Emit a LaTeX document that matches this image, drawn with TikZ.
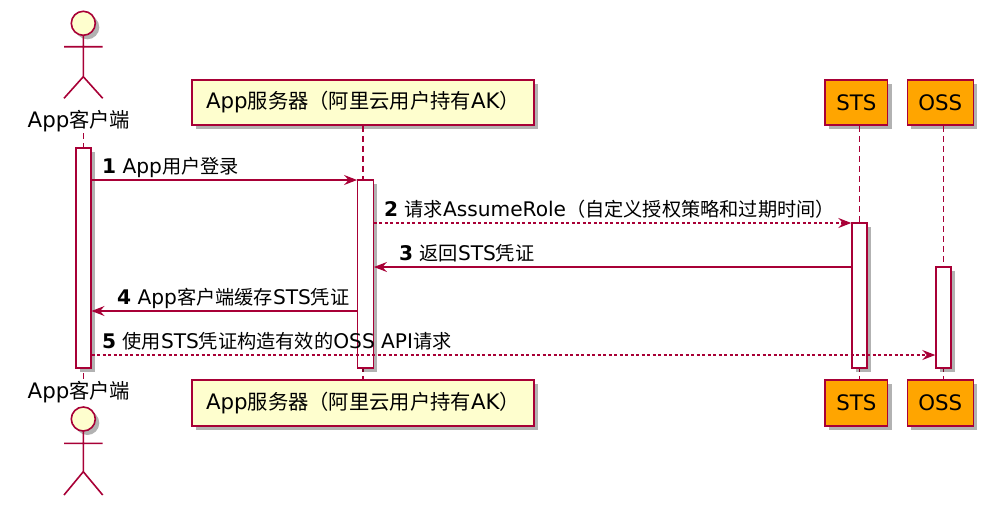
\documentclass[tikz,border=0pt]{standalone}
\usepackage{fontspec}
\setmainfont[Scale=1.05]{DejaVu Sans}
\newfontfamily\cjk{Noto Sans CJK SC}
\newcommand{\zh}[1]{{\cjk #1}}
\usetikzlibrary{arrows.meta,shadows}
\definecolor{pred}{HTML}{A80036}
\definecolor{pfill}{HTML}{FEFECE}
\definecolor{porange}{HTML}{FFA500}
\begin{document}
\begin{tikzpicture}[x=1pt,y=-1pt,
  shade/.style={drop shadow={shadow xshift=4pt,shadow yshift=-4pt,opacity=0.3,fill=black}},
  part/.style={draw=pred,line width=1.5pt,fill=pfill,inner sep=0pt,font=\fontsize{20.3}{24}\selectfont,shade},
  orangebox/.style={part,fill=porange},
  actlabel/.style={inner sep=0pt,font=\fontsize{20.3}{24}\selectfont},
  actfig/.style={draw=pred,line width=1.6pt},
  life/.style={draw=pred,line width=1.1pt,dash pattern=on 6pt off 4pt},
  actbox/.style={draw=pred,line width=1.4pt,fill=white,inner sep=0pt,shade},
  msg/.style={draw=pred,line width=1.2pt,-{Stealth[length=13pt,width=10pt,inset=4.5pt]}},
  dmsg/.style={msg,dash pattern=on 3pt off 2.5pt},
  mlabel/.style={anchor=base west,inner sep=0pt,font=\fontsize{19.2}{22}\selectfont}
]
\useasboundingbox (0,0) rectangle (1001,509);

% participants
\node[part,minimum width=342pt,minimum height=45pt] (p2top) at (363,102.5) {App\zh{服务器（阿里云用户持有}AK\zh{）}};
\node[part,minimum width=342pt,minimum height=46pt] (p2bot) at (363,403) {App\zh{服务器（阿里云用户持有}AK\zh{）}};
\node[orangebox,minimum width=62.5pt,minimum height=45pt] (p3top) at (856.3,102.5) {STS};
\node[orangebox,minimum width=62.5pt,minimum height=46pt] (p3bot) at (856.3,403) {STS};
\node[orangebox,minimum width=66pt,minimum height=45pt] (p4top) at (940.3,102.5) {OSS};
\node[orangebox,minimum width=66pt,minimum height=46pt] (p4bot) at (940.3,403) {OSS};

% actor labels
\node[actlabel] (c1top) at (79,121) {App\zh{客户端}};
\node[actlabel] (c1bot) at (79,392) {App\zh{客户端}};

% actor figures
\begin{scope}[actfig]
  \draw[fill=pfill,shade] (83.3,23.3) circle[radius=12];
  \draw (83.3,35.3) -- (83.3,76.7) (64,46.7) -- (102.7,46.7) (64,98.3) -- (83.3,76.7) -- (102.7,98.3);
  \draw[fill=pfill,shade] (83.3,419) circle[radius=12];
  \draw (83.3,431) -- (83.3,471.7) (64,443.3) -- (102.7,443.3) (64,495) -- (83.3,471.7) -- (102.7,495);
\end{scope}

% message rows
\coordinate (m1) at (0,180);
\coordinate (m2) at (0,223);
\coordinate (m3) at (0,267);
\coordinate (m4) at (0,311);
\coordinate (m5) at (0,355);

% lifelines
\draw[life] (83.3,133) -- (83.3,382);
\draw[life] (p2top.south) -- (p2bot.north);
\draw[life] ([xshift=3pt]p3top.south) -- ([xshift=3pt]p3bot.north);
\draw[life] ([xshift=3pt]p4top.south) -- ([xshift=3pt]p4bot.north);

% activation boxes
\node[actbox,minimum width=15pt,minimum height=220pt] (a1) at (83.3,258) {};
\node[actbox,minimum width=15.5pt,minimum height=188pt] (a2) at (365.5,274) {};
\node[actbox,minimum width=15pt,minimum height=145pt] (a3) at (859.5,295.5) {};
\node[actbox,minimum width=15pt,minimum height=101pt] (a4) at (943.5,317.5) {};

% messages
\draw[msg] (a1.east |- m1) -- (a2.west |- m1);
\node[mlabel] (l1) at (102,173) {{\bfseries 1} App\zh{用户登录}};

\draw[dmsg] (a2.east |- m2) -- (a3.west |- m2);
\node[mlabel] (l2) at (384,216) {{\bfseries 2} \zh{请求}AssumeRole\zh{（自定义授权策略和过期时间）}};

\draw[msg] (a3.west |- m3) -- (a2.east |- m3);
\node[mlabel] (l3) at (399,260) {{\bfseries 3} \zh{返回}STS\zh{凭证}};

\draw[msg] (a2.west |- m4) -- (a1.east |- m4);
\node[mlabel] (l4) at (117,304) {{\bfseries 4} App\zh{客户端缓存}STS\zh{凭证}};

\draw[dmsg] (a1.east |- m5) -- (a4.west |- m5);
\node[mlabel] (l5) at (102,348) {{\bfseries 5} \zh{使用}STS\zh{凭证构造有效的}OSS API\zh{请求}};
\end{tikzpicture}
\end{document}
